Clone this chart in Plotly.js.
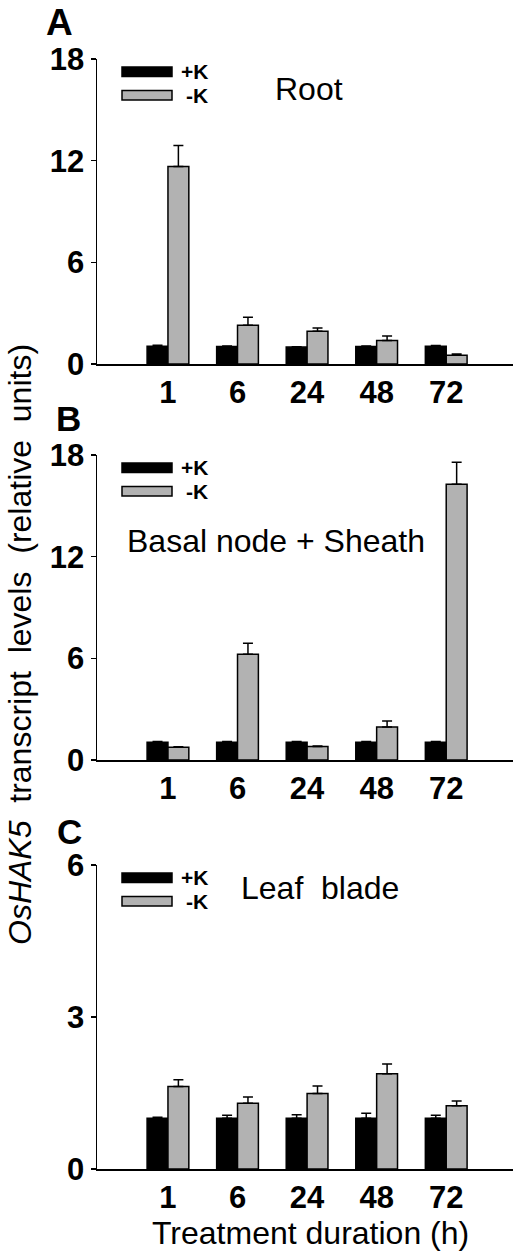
<!DOCTYPE html>
<html>
<head>
<meta charset="utf-8">
<script src="https://cdn.plot.ly/plotly-3.0.1.min.js"></script>
<style>
  body { margin: 0; background: #fff; }
  #chart { width: 520px; height: 1256px; }
</style>
</head>
<body>
<div id="chart"></div>
<script>
// treatment durations (h)
var times = ['1', '6', '24', '48', '72'];

// A: Root
var rootPlusK = [1.05, 1.03, 1.0, 1.03, 1.05];
var rootPlusKErr = [0.05, 0.03, 0.02, 0.03, 0.04];
var rootMinusK = [11.65, 2.28, 1.93, 1.38, 0.51];
var rootMinusKErr = [1.25, 0.48, 0.2, 0.27, 0.08];

// B: Basal node + Sheath
var nodePlusK = [1.05, 1.05, 1.05, 1.05, 1.05];
var nodePlusKErr = [0.04, 0.04, 0.04, 0.04, 0.04];
var nodeMinusK = [0.75, 6.24, 0.79, 1.95, 16.27];
var nodeMinusKErr = [0.03, 0.65, 0.03, 0.35, 1.3];

// C: Leaf blade
var leafPlusK = [1.0, 1.0, 1.0, 1.0, 1.0];
var leafPlusKErr = [0.02, 0.06, 0.07, 0.1, 0.06];
var leafMinusK = [1.63, 1.30, 1.49, 1.88, 1.25];
var leafMinusKErr = [0.13, 0.12, 0.15, 0.19, 0.09];

var W = 520, H = 1256;
var FONT = 'Arial, "Liberation Sans", sans-serif';
var GREY = 'rgb(178,178,178)';

function px(x) { return x / W; }
function py(y) { return 1 - y / H; }

function zeros(n) { var a = []; for (var i = 0; i < n; i++) a.push(0); return a; }

function bars(vals, errs, color, ax) {
  return {
    type: 'bar',
    x: times,
    y: vals,
    xaxis: 'x' + ax,
    yaxis: 'y' + ax,
    marker: { color: color, line: { color: '#000', width: 1.5 } },
    error_y: {
      type: 'data', symmetric: false, array: errs, arrayminus: zeros(errs.length),
      color: '#000', thickness: 1.5, width: 5
    },
    showlegend: false
  };
}

var data = [
  bars(rootPlusK, rootPlusKErr, '#000', ''),
  bars(rootMinusK, rootMinusKErr, GREY, ''),
  bars(nodePlusK, nodePlusKErr, '#000', '2'),
  bars(nodeMinusK, nodeMinusKErr, GREY, '2'),
  bars(leafPlusK, leafPlusKErr, '#000', '3'),
  bars(leafMinusK, leafMinusKErr, GREY, '3')
];

// panel tops / bottoms in pixels
var panels = [
  { top: 59, bottom: 364, max: 18, dtick: 6, letter: 'A', lx: 59, ly: 0, lsize: 37, title: 'Root', tx: 309, ty: 89 },
  { top: 455, bottom: 760, max: 18, dtick: 6, letter: 'B', lx: 68, ly: 397, lsize: 35, title: 'Basal node + Sheath', tx: 276, ty: 541 },
  { top: 865, bottom: 1169, max: 6, dtick: 3, letter: 'C', lx: 69, ly: 810, lsize: 35, title: 'Leaf\u00a0\u00a0blade', tx: 320, ty: 888 }
];

var layout = {
  width: W,
  height: H,
  margin: { l: 0, r: 0, t: 0, b: 0 },
  paper_bgcolor: '#fff',
  plot_bgcolor: '#fff',
  barmode: 'group',
  bargap: 0.4,
  bargroupgap: 0,
  font: { family: FONT, color: '#000' },
  shapes: [],
  annotations: []
};

panels.forEach(function (p, i) {
  var s = i === 0 ? '' : String(i + 1);
  layout['xaxis' + s] = {
    domain: [px(97), px(513)],
    anchor: 'y' + s,
    type: 'category',
    range: [-1.02, 4.96],
    showline: true, linecolor: '#000', linewidth: 1.5,
    ticks: '', showgrid: false, zeroline: false,
    tickfont: { family: FONT, size: 31, weight: 'bold', color: '#000' },
    fixedrange: true
  };
  layout['yaxis' + s] = {
    domain: [py(p.bottom), py(p.top)],
    anchor: 'x' + s,
    range: [0, p.max],
    dtick: p.dtick,
    showline: true, linecolor: '#000', linewidth: 1.5,
    ticks: 'outside', ticklen: 5, tickwidth: 1.5, tickcolor: '#000',
    showgrid: false, zeroline: false,
    tickfont: { family: FONT, size: 31, weight: 'bold', color: '#000' },
    fixedrange: true
  };

  // legend swatches
  layout.shapes.push({
    type: 'rect', xref: 'paper', yref: 'paper',
    x0: px(122), x1: px(172), y0: py(p.top + 8), y1: py(p.top + 17.5),
    fillcolor: '#000', line: { color: '#000', width: 1.5 }
  });
  layout.shapes.push({
    type: 'rect', xref: 'paper', yref: 'paper',
    x0: px(122), x1: px(172), y0: py(p.top + 31.5), y1: py(p.top + 41),
    fillcolor: GREY, line: { color: '#000', width: 1.5 }
  });
  layout.annotations.push({
    xref: 'paper', yref: 'paper', x: px(210), y: py(p.top + 12.5),
    xanchor: 'right', yanchor: 'middle', showarrow: false, text: '+K',
    font: { family: FONT, size: 21, weight: 'bold' }
  });
  layout.annotations.push({
    xref: 'paper', yref: 'paper', x: px(210), y: py(p.top + 36.5),
    xanchor: 'right', yanchor: 'middle', showarrow: false, text: '-K',
    font: { family: FONT, size: 21, weight: 'bold' }
  });
  // panel letter
  layout.annotations.push({
    xref: 'paper', yref: 'paper', x: px(p.lx), y: py(p.ly),
    xanchor: 'center', yanchor: 'top', showarrow: false, text: p.letter,
    font: { family: FONT, size: p.lsize, weight: 'bold' }
  });
  // tissue title
  layout.annotations.push({
    xref: 'paper', yref: 'paper', x: px(p.tx), y: py(p.ty),
    xanchor: 'center', yanchor: 'middle', showarrow: false, text: p.title,
    font: { family: FONT, size: 32 }
  });
});

// shared y label
layout.annotations.push({
  xref: 'paper', yref: 'paper', x: px(20), y: py(645),
  xanchor: 'center', yanchor: 'middle', showarrow: false, textangle: -90,
  text: '<i>OsHAK5</i>\u00a0\u00a0transcript\u00a0\u00a0levels\u00a0\u00a0(relative\u00a0\u00a0units)',
  font: { family: FONT, size: 32 }
});
// x label
layout.annotations.push({
  xref: 'paper', yref: 'paper', x: px(310), y: py(1233),
  xanchor: 'center', yanchor: 'middle', showarrow: false,
  text: 'Treatment duration (h)',
  font: { family: FONT, size: 32 }
});

Plotly.newPlot('chart', data, layout, { staticPlot: true });
</script>
</body>
</html>
